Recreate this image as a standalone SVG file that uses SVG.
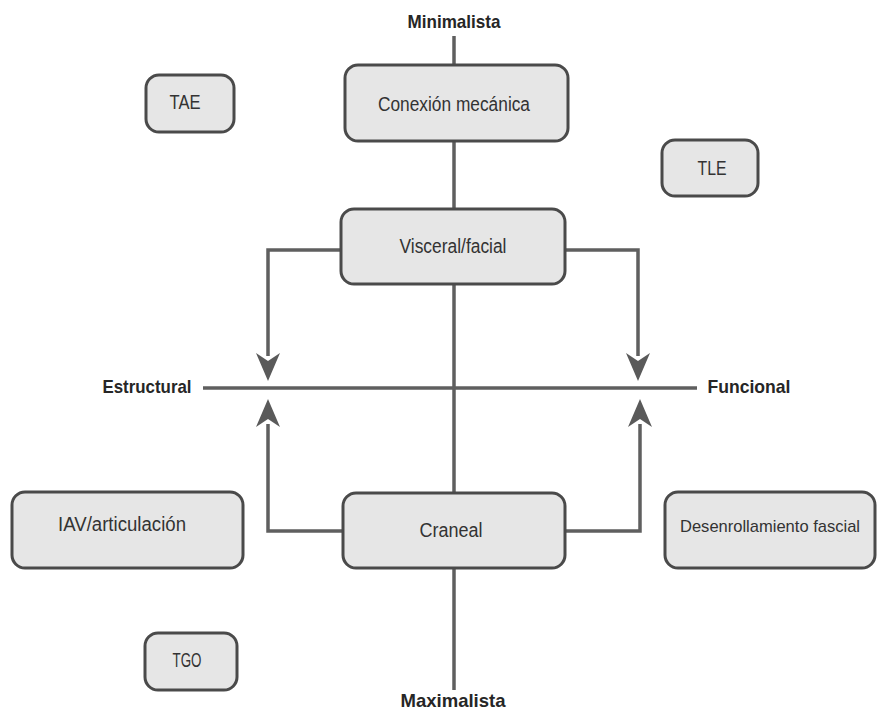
<svg xmlns="http://www.w3.org/2000/svg" width="878" height="713" viewBox="0 0 878 713">
<defs>
<style>
.box{fill:#e6e6e6;stroke:#4a4a4a;stroke-width:3}
.ln{fill:none;stroke:#5f5f5f;stroke-width:3.5}
.ah{fill:#5a5a5a}
.t{font-family:"Liberation Sans",Arial,sans-serif;font-size:20px;fill:#333;text-anchor:middle}
.b{font-family:"Liberation Sans",Arial,sans-serif;font-size:19px;font-weight:bold;fill:#262626;text-anchor:middle}
</style>
</defs>
<rect width="878" height="713" fill="#fff"/>
<g id="connectors">
<line class="ln" x1="454" y1="36" x2="454" y2="690"/>
<line class="ln" x1="203" y1="388" x2="697" y2="388"/>
<path class="ln" d="M341,250 H268 V356"/>
<path class="ln" d="M565,250 H638 V356"/>
<path class="ln" d="M343,531 H268 V424"/>
<path class="ln" d="M565,531 H640 V424"/>
<path class="ah" d="M256,353 L268,381 L280,353 L268,361 Z"/>
<path class="ah" d="M626,353 L638,381 L650,353 L638,361 Z"/>
<path class="ah" d="M256,427 L268,399 L280,427 L268,419 Z"/>
<path class="ah" d="M628,427 L640,399 L652,427 L640,419 Z"/>
</g>
<text class="b" x="454" y="28" textLength="93" lengthAdjust="spacingAndGlyphs">Minimalista</text>
<text class="b" x="147" y="393" textLength="89" lengthAdjust="spacingAndGlyphs">Estructural</text>
<text class="b" x="749" y="393" textLength="83" lengthAdjust="spacingAndGlyphs">Funcional</text>
<text class="b" x="453" y="707" textLength="105" lengthAdjust="spacingAndGlyphs">Maximalista</text>
<g id="n-conexion">
<rect class="box" x="345" y="65" width="223" height="76" rx="13"/>
<text class="t" x="454" y="111" textLength="152" lengthAdjust="spacingAndGlyphs">Conexión mecánica</text>
</g>
<g id="n-tae">
<rect class="box" x="146" y="75" width="88" height="57" rx="13"/>
<text class="t" x="185" y="109" textLength="31" lengthAdjust="spacingAndGlyphs">TAE</text>
</g>
<g id="n-tle">
<rect class="box" x="662" y="140" width="96" height="56" rx="13"/>
<text class="t" x="712" y="175" textLength="29" lengthAdjust="spacingAndGlyphs">TLE</text>
</g>
<g id="n-visceral">
<rect class="box" x="341" y="209" width="224" height="75" rx="13"/>
<text class="t" x="453" y="253" textLength="107" lengthAdjust="spacingAndGlyphs">Visceral/facial</text>
</g>
<g id="n-iav">
<rect class="box" x="12" y="492" width="231" height="76" rx="13"/>
<text class="t" x="122" y="531" textLength="128" lengthAdjust="spacingAndGlyphs">IAV/articulación</text>
</g>
<g id="n-craneal">
<rect class="box" x="343" y="493" width="222" height="75" rx="13"/>
<text class="t" x="451" y="537" textLength="63" lengthAdjust="spacingAndGlyphs">Craneal</text>
</g>
<g id="n-desenrollamiento">
<rect class="box" x="665" y="492" width="210" height="76" rx="13"/>
<text class="t" x="770" y="532" style="font-size:17px" textLength="180" lengthAdjust="spacingAndGlyphs">Desenrollamiento fascial</text>
</g>
<g id="n-tgo">
<rect class="box" x="145" y="633" width="92" height="57" rx="13"/>
<text class="t" x="187" y="667" textLength="29" lengthAdjust="spacingAndGlyphs">TGO</text>
</g>
</svg>
